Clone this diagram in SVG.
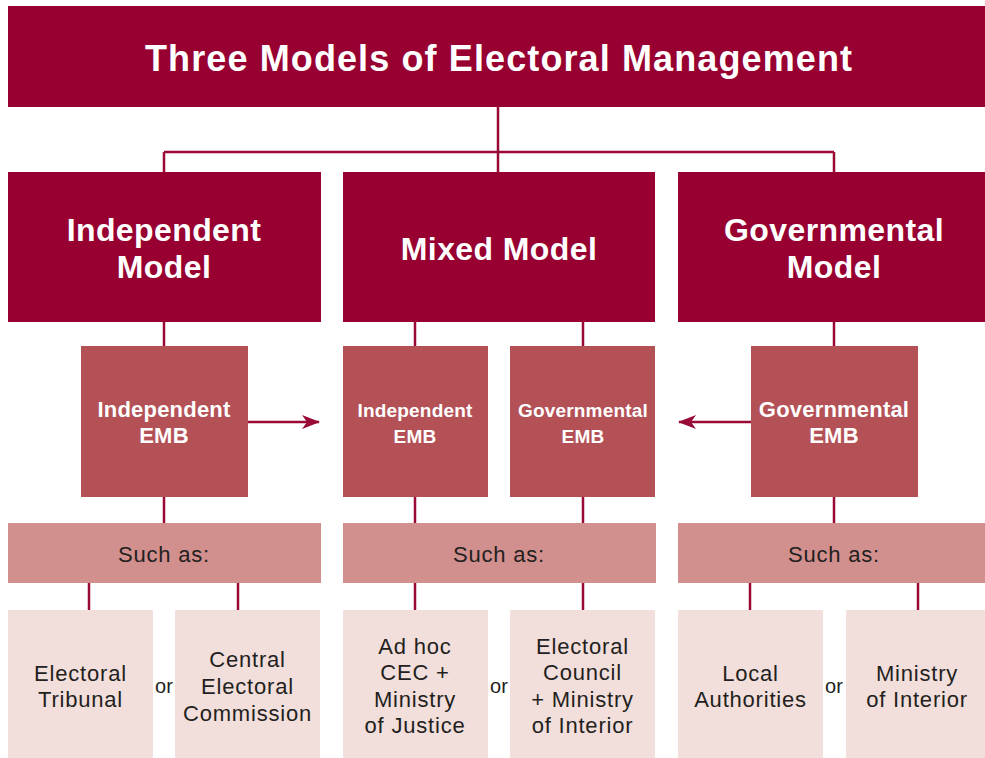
<svg xmlns="http://www.w3.org/2000/svg" width="985" height="758" viewBox="0 0 985 758">
  <style>
    .dark { fill: #970030; }
    .emb { fill: #b45157; }
    .such { fill: #d18f8d; }
    .leaf { fill: #f2dedb; }
    .wt { fill: #ffffff; font-family: "Liberation Sans", Arial, sans-serif; font-weight: bold; text-anchor: middle; }
    .title { font-size: 36px; }
    .model { font-size: 32px; letter-spacing: 0.4px; }
    .embL { font-size: 22px; letter-spacing: 0.2px; }
    .embS { font-size: 19px; letter-spacing: 0.2px; }
    .tx { fill: #231f20; font-family: "Liberation Sans", Arial, sans-serif; font-size: 22px; letter-spacing: 0.8px; text-anchor: middle; }
    .or { fill: #231f20; font-family: "Liberation Sans", Arial, sans-serif; font-size: 20px; text-anchor: middle; }
    .conn { stroke: #9a0a36; stroke-width: 2.5; fill: none; }
  </style>
  <defs>
    <marker id="arrow" viewBox="0 0 18 14" refX="17" refY="7" markerWidth="18" markerHeight="14" markerUnits="userSpaceOnUse" orient="auto">
      <path d="M0,0 L18,7 L0,14 L5,7 Z" fill="#9a0a36"/>
    </marker>
  </defs>
  <rect width="985" height="758" fill="#ffffff"/>

  <!-- connectors -->
  <g id="connectors" class="conn">
    <path d="M498,107 V152 M164,152 H834 M164,152 V172 M498,152 V172 M834,152 V172"/>
    <path d="M164,322 V346 M415,322 V346 M583,322 V346 M834,322 V346"/>
    <path d="M164,497 V523 M415,497 V523 M583,497 V523 M834,497 V523"/>
    <path d="M89,583 V610 M238,583 V610 M415,583 V610 M583,583 V610 M750,583 V610 M918,583 V610"/>
    <path d="M247,422 H319" marker-end="url(#arrow)"/>
    <path d="M751,422 H679" marker-end="url(#arrow)"/>
  </g>

  <!-- title -->
  <g id="title">
    <rect class="dark" x="8" y="6" width="977" height="101"/>
    <text class="wt title" x="498.5" y="71" textLength="707">Three Models of Electoral Management</text>
  </g>

  <!-- models -->
  <g id="model-independent">
    <rect class="dark" x="8" y="172" width="313" height="150"/>
    <text class="wt model" x="164" y="241">Independent</text>
    <text class="wt model" x="164" y="278">Model</text>
  </g>
  <g id="model-mixed">
    <rect class="dark" x="343" y="172" width="312" height="150"/>
    <text class="wt model" x="499" y="260">Mixed Model</text>
  </g>
  <g id="model-governmental">
    <rect class="dark" x="678" y="172" width="307" height="150"/>
    <text class="wt model" x="834" y="241">Governmental</text>
    <text class="wt model" x="834" y="278">Model</text>
  </g>

  <!-- EMBs -->
  <g id="emb-independent">
    <rect class="emb" x="81" y="346" width="167" height="151"/>
    <text class="wt embL" x="164" y="417">Independent</text>
    <text class="wt embL" x="164" y="443">EMB</text>
  </g>
  <g id="emb-mixed-independent">
    <rect class="emb" x="343" y="346" width="145" height="151"/>
    <text class="wt embS" x="415" y="417">Independent</text>
    <text class="wt embS" x="415" y="443">EMB</text>
  </g>
  <g id="emb-mixed-governmental">
    <rect class="emb" x="510" y="346" width="145" height="151"/>
    <text class="wt embS" x="583" y="417">Governmental</text>
    <text class="wt embS" x="583" y="443">EMB</text>
  </g>
  <g id="emb-governmental">
    <rect class="emb" x="751" y="346" width="167" height="151"/>
    <text class="wt embL" x="834" y="417">Governmental</text>
    <text class="wt embL" x="834" y="443">EMB</text>
  </g>

  <!-- "Such as" bars -->
  <g id="such-independent">
    <rect class="such" x="8" y="523" width="313" height="60"/>
    <text class="tx" x="164" y="562">Such as:</text>
  </g>
  <g id="such-mixed">
    <rect class="such" x="343" y="523" width="313" height="60"/>
    <text class="tx" x="499" y="562">Such as:</text>
  </g>
  <g id="such-governmental">
    <rect class="such" x="678" y="523" width="307" height="60"/>
    <text class="tx" x="834" y="562">Such as:</text>
  </g>

  <!-- examples -->
  <g id="ex-electoral-tribunal">
    <rect class="leaf" x="8" y="610" width="145" height="148"/>
    <text class="tx" x="80.5" y="681">Electoral</text>
    <text class="tx" x="80.5" y="707">Tribunal</text>
  </g>
  <g id="ex-central-commission">
    <rect class="leaf" x="175" y="610" width="145" height="148"/>
    <text class="tx" x="247.5" y="667">Central</text>
    <text class="tx" x="247.5" y="694">Electoral</text>
    <text class="tx" x="247.5" y="721">Commission</text>
  </g>
  <g id="ex-adhoc-cec">
    <rect class="leaf" x="343" y="610" width="145" height="148"/>
    <text class="tx" x="415" y="654">Ad hoc</text>
    <text class="tx" x="415" y="680">CEC +</text>
    <text class="tx" x="415" y="707">Ministry</text>
    <text class="tx" x="415" y="733">of Justice</text>
  </g>
  <g id="ex-electoral-council">
    <rect class="leaf" x="510" y="610" width="145" height="148"/>
    <text class="tx" x="582.5" y="654">Electoral</text>
    <text class="tx" x="582.5" y="680">Council</text>
    <text class="tx" x="582.5" y="707">+ Ministry</text>
    <text class="tx" x="582.5" y="733">of Interior</text>
  </g>
  <g id="ex-local-authorities">
    <rect class="leaf" x="678" y="610" width="145" height="148"/>
    <text class="tx" x="750.5" y="681">Local</text>
    <text class="tx" x="750.5" y="707">Authorities</text>
  </g>
  <g id="ex-ministry-interior">
    <rect class="leaf" x="846" y="610" width="139" height="148"/>
    <text class="tx" x="917" y="681">Ministry</text>
    <text class="tx" x="917" y="707">of Interior</text>
  </g>

  <!-- alternatives -->
  <g id="or-labels">
    <text class="or" x="164" y="693">or</text>
    <text class="or" x="499" y="693">or</text>
    <text class="or" x="834" y="693">or</text>
  </g>
</svg>
